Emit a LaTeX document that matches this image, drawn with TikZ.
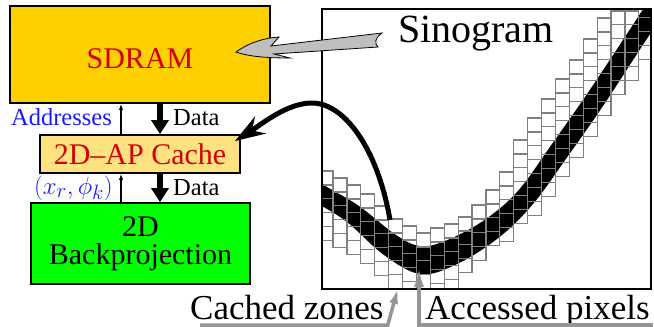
\documentclass[tikz,border=0pt]{standalone}
\usepackage[no-math]{fontspec}
\setmainfont{Liberation Serif}
\usetikzlibrary{arrows.meta,calc}
\definecolor{sdramc}{RGB}{255,208,0}
\definecolor{cachec}{RGB}{255,226,128}
\definecolor{bpc}{RGB}{0,255,0}
\definecolor{redt}{RGB}{210,0,0}
\definecolor{bluet}{RGB}{25,25,255}
\begin{document}
\begin{tikzpicture}[x=1pt,y=-1pt,
  box/.style={draw=black,line width=1.8pt,inner sep=0pt},
  lab/.style={inner sep=0pt,font=\fontsize{24.5}{28}\selectfont},
  bigtext/.style={inner sep=0pt,font=\fontsize{35}{40}\selectfont},
  dataarrow/.style={line width=6pt,-{Triangle[length=14pt,width=17pt]}},
  addrarrow/.style={line width=1.2pt,-{Latex[length=6pt,width=4.5pt]}},
  cell/.style={draw=black!50,line width=1.2pt},
  graylead/.style={draw=black!42,line width=3.5pt},
]
\useasboundingbox (0,0) rectangle (654,327);

% blocks
\node[box,fill=sdramc,minimum width=260pt,minimum height=97pt,text=redt,
      font=\fontsize{30}{34}\selectfont,text height=27pt,text depth=0pt] (sdram) at (140,54.5) {SDRAM};
\node[box,fill=cachec,minimum width=200pt,minimum height=38pt,text=redt,
      font=\fontsize{30}{34}\selectfont] (cache) at (140,154) {2D--AP Cache};
\node[box,fill=bpc,minimum width=219pt,minimum height=81pt,align=center,
      font=\fontsize{30}{28}\selectfont] (bp) at (140.5,243.5) {2D\\Backprojection};

% vertical arrows
\coordinate (ax) at (121,0);
\coordinate (dx) at (160,0);
\draw[addrarrow] (cache.north -| ax) -- (sdram.south -| ax);
\draw[addrarrow] (bp.north -| ax) -- (cache.south -| ax);
\draw[dataarrow] (sdram.south -| dx) -- (cache.north -| dx);
\draw[dataarrow] (cache.south -| dx) -- (bp.north -| dx);

\node[lab,text=bluet,anchor=base east] (addr) at (112,125) {Addresses};
\node[lab,anchor=base west] (data1) at (173,125) {Data};
\node[lab,text=bluet,anchor=base east,font=\fontsize{27.5}{30}\selectfont] (xphi) at (113,194) {$(x_r,\phi_k)$};
\node[lab,anchor=base west] (data2) at (173,195) {Data};

% sinogram
\node[minimum width=329pt,minimum height=280pt,inner sep=0pt,outer sep=0pt] (sino) at (486.5,149) {};
\begin{scope}
\clip (sino.north west) rectangle (sino.south east);
\fill[black] plot[smooth,tension=0.6] coordinates {(315,179) (327,187) (359,206) (396,235) (420,246) (445,241) (483,221) (517.5,191.4) (552,144) (587,94) (620,44.5) (654,-7.5)}
  -- plot[smooth,tension=0.6] coordinates {(670,3.5) (636,55.5) (603,106) (568,156) (532.5,204.6) (497,239) (455,265) (420,274) (384,255) (347,222) (317,203) (305,195)} -- cycle;
\foreach \x/\t/\n in {319.1/171/5, 333.0/178/5, 346.9/185/5, 360.8/194/5, 374.7/206/5,
  388.6/219/5, 402.5/226/5, 416.4/233/4, 430.3/228/5, 444.2/224/5, 458.1/217/4,
  472.0/205/4, 485.9/190/4, 499.8/172/5, 513.7/140/6, 527.6/118/7, 541.5/99/7,
  555.4/79/7, 569.3/60/7, 583.2/39/7, 597.1/18/7, 611.0/-3/7, 624.9/-3/6, 638.8/-10/5}
{
  \foreach \i in {1,...,\n}
    \draw[cell] ({\x},{\t+13.9*(\i-1)}) rectangle ++(13.9,13.9);
}
\end{scope}
\draw[line width=1.2pt] (sino.north west) rectangle (sino.south east);

\node[inner sep=0pt,anchor=base west,font=\fontsize{40}{44}\selectfont] (sinolab) at (398,42) {Sinogram};

% gray callout from Sinogram to SDRAM
\filldraw[fill=gray!50,draw=black,line width=0.8pt]
  (236,52) .. controls (250,42) and (265,38) .. (279,37) -- (271,46) -- (382,33)
  .. controls (375,38) and (374,43) .. (378,47) -- (274,54) -- (290,58)
  .. controls (270,58) and (250,57) .. cycle;

% black curved arrow
\coordinate (zs) at (390,220);
\coordinate (ce) at ($(cache.north east)+(-6,7)$);
\draw[line width=5pt,-{Stealth[length=30pt,width=20pt,inset=10pt]}]
  (zs) .. controls (378,150) and (345,103) .. (312,103) .. controls (287,103) and (262,124) .. (ce);

% bottom labels
\node[bigtext,anchor=base west] (cz) at (190,319) {Cached zones};
\node[bigtext,anchor=base west] (ap) at (425,319) {Accessed pixels};
\coordinate (czt) at (398,288);
\coordinate (apt) at (419,267);
\draw[graylead,-{Latex[length=16pt,width=9pt]}] ($(cz.base west)+(10,6)$) -- ($(cz.base east)+(4,6)$) -- (czt);
\draw[graylead,-{Latex[length=20pt,width=10pt]}] ($(ap.base east)+(3,6)$) -- ($(ap.base west)+(-6,6)$) -- (apt);
\end{tikzpicture}
\end{document}
